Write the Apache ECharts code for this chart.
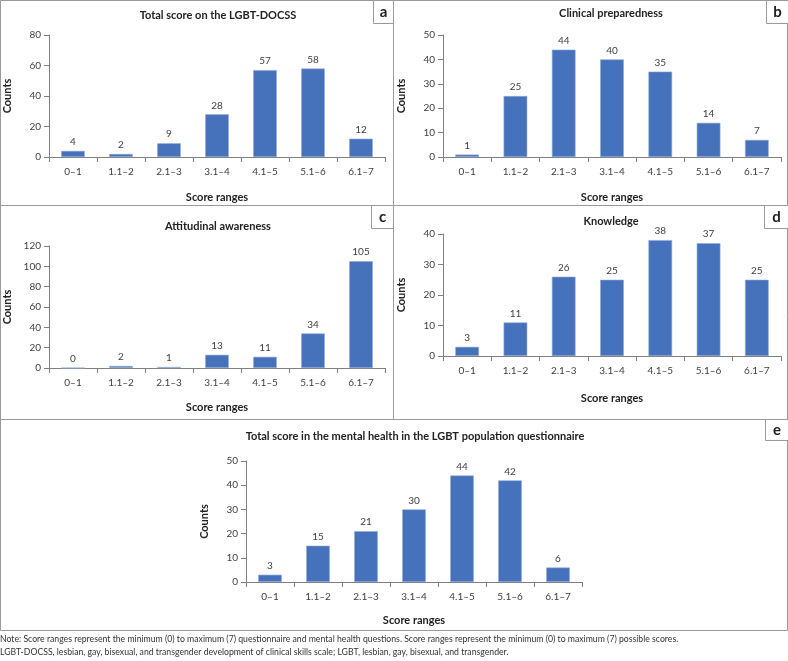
<!DOCTYPE html>
<html><head><meta charset="utf-8">
<script src="https://cdn.jsdelivr.net/npm/echarts@6/dist/echarts.min.js"></script>
<style>html,body{margin:0;padding:0;background:#fff}#c{width:788px;height:661px}</style>
</head><body><div id="c"></div>
<script>
const categories = ['0\u20131','1.1\u20132','2.1\u20133','3.1\u20134','4.1\u20135','5.1\u20136','6.1\u20137'];
const totalDocss = [4, 2, 9, 28, 57, 58, 12];
const clinical = [1, 25, 44, 40, 35, 14, 7];
const attitudinal = [0, 2, 1, 13, 11, 34, 105];
const knowledge = [3, 11, 26, 25, 38, 37, 25];
const mentalHealth = [3, 15, 21, 30, 44, 42, 6];
const titles = ['Total score on the LGBT-DOCSS', 'Clinical preparedness', 'Attitudinal awareness', 'Knowledge', 'Total score in the mental health in the LGBT population questionnaire'];
const letters = ['a', 'b', 'c', 'd', 'e'];
const yMax = [80, 50, 120, 40, 50];
const yStep = [20, 10, 20, 10, 10];
const noteLines = [
  'Note: Score ranges represent the minimum (0) to maximum (7) questionnaire and mental health questions. Score ranges represent the minimum (0) to maximum (7) possible scores.',
  'LGBT-DOCSS, lesbian, gay, bisexual, and transgender development of clinical skills scale; LGBT, lesbian, gay, bisexual, and transgender.'
];
const seriesData = [totalDocss, clinical, attitudinal, knowledge, mentalHealth];

const FONT = 'Lato, "Open Sans", sans-serif';
const grids = [
  {left: 49, top: 35, width: 336, height: 122},
  {left: 443, top: 35, width: 338, height: 122},
  {left: 49, top: 246, width: 336, height: 122},
  {left: 443, top: 234, width: 338, height: 122},
  {left: 246, top: 461, width: 336, height: 121}
];
const titlePos = [[218, 10], [611, 8], [218, 221], [611, 216], [415, 431]];
const xNameGap = [35, 35, 34, 37, 33];
const letterBox = [[373, 0, 20, 23], [766, 0, 22, 23], [371, 205, 22, 23], [764, 205, 24, 23], [765, 419, 23, 21]];

const axisColor = '#7f7f7f';
const textColor = '#404040';

const option = {
  animation: false,
  backgroundColor: '#fff',
  title: titles.map((t, i) => ({
    text: t, left: titlePos[i][0], top: titlePos[i][1], textAlign: 'center', padding: 0,
    textStyle: {fontFamily: FONT, fontSize: 11, fontWeight: 'bold', color: '#222'}
  })),
  grid: grids,
  xAxis: grids.map((g, i) => ({
    type: 'category', gridIndex: i, data: categories,
    name: 'Score ranges', nameLocation: 'middle', nameGap: xNameGap[i],
    nameTextStyle: {fontFamily: FONT, fontSize: 11, fontWeight: 'bold', color: '#222'},
    axisLine: {lineStyle: {color: axisColor, width: 1}},
    axisTick: {show: true, length: 5, lineStyle: {color: axisColor}},
    axisLabel: {fontFamily: FONT, fontSize: 10, color: textColor, margin: 10, interval: 0}
  })),
  yAxis: grids.map((g, i) => ({
    type: 'value', gridIndex: i, min: 0, max: yMax[i], interval: yStep[i],
    name: 'Counts', nameLocation: 'middle', nameGap: 36, nameRotate: 90,
    nameTextStyle: {fontFamily: FONT, fontSize: 11, fontWeight: 'bold', color: '#222'},
    axisLine: {show: true, lineStyle: {color: axisColor, width: 1}},
    axisTick: {show: true, length: 5, lineStyle: {color: axisColor}},
    splitLine: {show: false},
    axisLabel: {fontFamily: FONT, fontSize: 10, color: textColor, margin: 8}
  })),
  series: seriesData.map((d, i) => ({
    type: 'bar', xAxisIndex: i, yAxisIndex: i, data: d, barWidth: '49%',
    itemStyle: {color: '#4672bb', borderColor: '#8ea9d8', borderWidth: 0.6},
    label: {show: true, position: 'top', distance: 4, fontFamily: FONT, fontSize: 10, color: textColor}
  })),
  graphic: [
    {type: 'rect', shape: {x: 0.5, y: 0.5, width: 787, height: 630}, style: {fill: 'none', stroke: '#9a9a9a', lineWidth: 1}},
    {type: 'line', shape: {x1: 393.5, y1: 0, x2: 393.5, y2: 419}, style: {stroke: '#9a9a9a', lineWidth: 1}},
    {type: 'line', shape: {x1: 0, y1: 205.5, x2: 788, y2: 205.5}, style: {stroke: '#9a9a9a', lineWidth: 1}},
    {type: 'line', shape: {x1: 0, y1: 419.5, x2: 788, y2: 419.5}, style: {stroke: '#9a9a9a', lineWidth: 1}},
    ...letterBox.map((b, i) => ({
      type: 'group', children: [
        {type: 'rect', shape: {x: b[0] + 0.5, y: b[1] + 0.5, width: b[2], height: b[3]}, style: {fill: '#fff', stroke: '#9a9a9a', lineWidth: 1}},
        {type: 'text', x: b[0] + b[2] / 2 + 0.5, y: b[1] + b[3] / 2 + 0.5, style: {text: letters[i], align: 'center', verticalAlign: 'middle', font: 'bold 15px ' + FONT, fill: '#222'}}
      ]
    })),
    ...noteLines.map((t, i) => ({
      type: 'text', x: 0, y: 639 + i * 13, style: {text: t, verticalAlign: 'middle', font: '8.7px ' + FONT, fill: '#333'}
    }))
  ]
};
const chart = echarts.init(document.getElementById('c'), null, {renderer: 'canvas'});
chart.setOption(option);
</script></body></html>
